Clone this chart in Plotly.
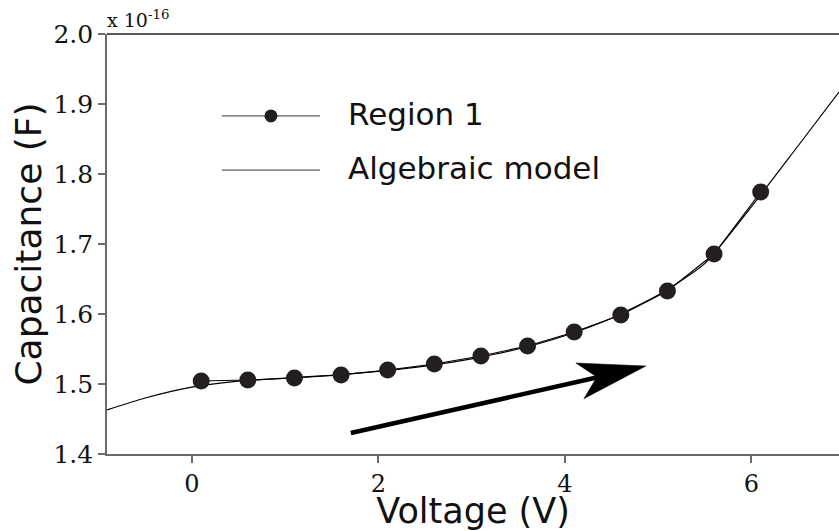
import plotly.graph_objects as go

# Measured capacitance, Region 1 (units of 1e-16 F)
voltage = [0.1, 0.6, 1.1, 1.6, 2.1, 2.6, 3.1, 3.6, 4.1, 4.6, 5.1, 5.6, 6.1]
capacitance = [1.5043, 1.5057, 1.5086, 1.5129, 1.5200, 1.5286, 1.5400,
               1.5543, 1.5743, 1.5986, 1.6329, 1.6857, 1.7743]

# Algebraic model curve
model_v = [-0.91, -0.5, 0.0, 0.5, 1.0, 1.5, 2.0, 2.5, 3.0, 3.5, 4.0,
           4.5, 5.0, 5.5, 6.0, 6.5, 6.94]
model_c = [1.463, 1.480, 1.4955, 1.5040, 1.5085, 1.5125, 1.5180, 1.5255,
           1.5360, 1.5500, 1.5690, 1.5940, 1.6270, 1.6720, 1.7530, 1.8400,
           1.9170]

x_ticks = [0, 2, 4, 6]
y_ticks = [1.4, 1.5, 1.6, 1.7, 1.8, 1.9, 2.0]
y_tick_text = ["1.4", "1.5", "1.6", "1.7", "1.8", "1.9", "2.0"]

INK = "#231f20"
AXIS_GRAY = "#6a6a6a"

fig = go.Figure()

fig.add_trace(go.Scatter(
    x=model_v, y=model_c, mode="lines", name="Algebraic model",
    line=dict(color="black", width=1.2, shape="spline", smoothing=0.6),
    showlegend=False,
))
fig.add_trace(go.Scatter(
    x=voltage, y=capacitance, mode="lines+markers", name="Region 1",
    line=dict(color="black", width=1.2),
    marker=dict(color=INK, size=17, line=dict(width=0)),
    showlegend=False,
))

shapes = []
# top frame line
shapes.append(dict(type="line", xref="paper", yref="paper", x0=0, x1=1,
                   y0=1, y1=1, line=dict(color="#222222", width=1.6)))

# hand-drawn legend samples
leg_x0, leg_x1, leg_xm = 0.157, 0.291, 0.224
leg_y1, leg_y2 = 0.805, 0.676
for ly in (leg_y1, leg_y2):
    shapes.append(dict(type="line", xref="paper", yref="paper",
                       x0=leg_x0, x1=leg_x1, y0=ly, y1=ly,
                       line=dict(color="#333333", width=1)))
shapes.append(dict(type="circle", xref="paper", yref="paper",
                   xsizemode="pixel", ysizemode="pixel",
                   xanchor=leg_xm, yanchor=leg_y1,
                   x0=-6.5, x1=6.5, y0=-6.5, y1=6.5,
                   fillcolor=INK, line=dict(width=0)))

# arrow indicating sweep direction
shapes.append(dict(type="line", xref="x", yref="y",
                   x0=1.705, y0=1.430, x1=4.40, y1=1.511,
                   line=dict(color="black", width=4.5)))
shapes.append(dict(type="path", xref="x", yref="y",
                   path="M 4.869 1.5257 L 4.118 1.530 L 4.343 1.510 L 4.204 1.479 Z",
                   fillcolor="black", line=dict(color="black", width=0.5)))

annotations = [
    dict(text="Region 1", xref="paper", yref="paper", x=0.327, y=0.81,
         xanchor="left", yanchor="middle", showarrow=False,
         font=dict(family="DejaVu Sans", size=31, color="#111111")),
    dict(text="Algebraic model", xref="paper", yref="paper", x=0.327, y=0.68,
         xanchor="left", yanchor="middle", showarrow=False,
         font=dict(family="DejaVu Sans", size=31, color="#111111")),
    dict(text="x 10<sup>-16</sup>", xref="paper", yref="paper", x=-0.003,
         y=1.0, xanchor="left", yanchor="bottom", showarrow=False,
         yshift=1,
         font=dict(family="DejaVu Serif", size=19, color="#111111")),
]

fig.update_layout(
    width=839, height=531,
    margin=dict(l=107, r=0, t=34, b=77),
    paper_bgcolor="white", plot_bgcolor="white",
    shapes=shapes, annotations=annotations,
    xaxis=dict(
        range=[-0.91, 6.94], tickvals=x_ticks, ticktext=[str(v) for v in x_ticks],
        showgrid=False, zeroline=False, showline=True, linecolor=AXIS_GRAY,
        linewidth=1.6, ticks="outside", ticklen=7, tickwidth=1.5,
        tickcolor=AXIS_GRAY,
        tickfont=dict(family="DejaVu Serif", size=24, color="#111111"),
        title=dict(text="Voltage (V)", standoff=0,
                   font=dict(family="DejaVu Sans", size=35, color="#111111")),
    ),
    yaxis=dict(
        range=[1.4, 2.0], tickvals=y_ticks, ticktext=y_tick_text,
        showgrid=False, zeroline=False, showline=True, linecolor=AXIS_GRAY,
        linewidth=1.6, ticks="outside", ticklen=7, tickwidth=1.5,
        tickcolor=AXIS_GRAY,
        tickfont=dict(family="DejaVu Serif", size=25, color="#111111"),
        title=dict(text="Capacitance (F)", standoff=1,
                   font=dict(family="DejaVu Sans", size=36, color="#111111")),
    ),
)

fig.write_html("out.html")
